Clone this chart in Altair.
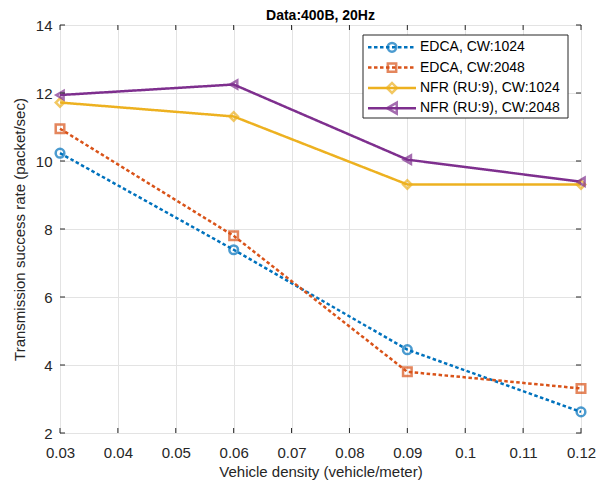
import altair as alt
import pandas as pd

density = [0.03, 0.06, 0.09, 0.12]
series_names = ["EDCA, CW:1024", "EDCA, CW:2048", "NFR (RU:9), CW:1024", "NFR (RU:9), CW:2048"]
edca_1024 = [10.23, 7.39, 4.45, 2.62]
edca_2048 = [10.95, 7.80, 3.80, 3.31]
nfr_1024 = [11.72, 11.31, 9.31, 9.31]
nfr_2048 = [11.94, 12.25, 10.04, 9.39]
colors = ["#0072BD", "#D95319", "#EDB120", "#7E2F8E"]
shapes = ["circle", "square", "diamond", "triangle-left"]
marker_sizes = [75, 70, 100, 120]
dashes = [[3.5, 2.5], [3.5, 2.5], [1, 0], [1, 0]]
x_ticks = [0.03, 0.04, 0.05, 0.06, 0.07, 0.08, 0.09, 0.10, 0.11, 0.12]
y_ticks = [2, 4, 6, 8, 10, 12, 14]
title_text = "Data:400B, 20Hz"

W, H = 521, 408
FONT = "Liberation Sans"
TXT = "#262626"

rows = []
for name, vals in zip(series_names, [edca_1024, edca_2048, nfr_1024, nfr_2048]):
    for d, v in zip(density, vals):
        rows.append({"density": d, "rate": v, "series": name})
df = pd.DataFrame(rows)

xs = alt.Scale(domain=[0.03, 0.12], nice=False, zero=False)
ys = alt.Scale(domain=[2, 14], nice=False, zero=False)
cs = alt.Scale(domain=series_names, range=colors)

base = alt.Chart(df)

lines = base.mark_line(strokeWidth=2.5).encode(
    x=alt.X("density:Q", scale=xs, title="Vehicle density (vehicle/meter)",
            axis=alt.Axis(values=x_ticks, format=".2~f")),
    y=alt.Y("rate:Q", scale=ys, title="Transmission success rate (packet/sec)",
            axis=alt.Axis(values=y_ticks)),
    color=alt.Color("series:N", scale=cs, legend=None),
    strokeDash=alt.StrokeDash("series:N", scale=alt.Scale(domain=series_names, range=dashes), legend=None),
    detail="series:N",
)

points = base.mark_point(filled=False, strokeWidth=2.5).encode(
    x=alt.X("density:Q", scale=xs),
    y=alt.Y("rate:Q", scale=ys),
    color=alt.Color("series:N", scale=cs, legend=None),
    shape=alt.Shape("series:N", scale=alt.Scale(domain=series_names, range=shapes), legend=None),
    size=alt.Size("series:N", scale=alt.Scale(domain=series_names, range=marker_sizes), legend=None),
)

# inward ticks on all four sides
xt = pd.DataFrame({"t": x_ticks})
yt = pd.DataFrame({"t": y_ticks})
tick_layers = [
    alt.Chart(xt).mark_rule(color=TXT, strokeWidth=1).encode(x=alt.X("t:Q", scale=xs), y=alt.value(H), y2=alt.value(H - 5)),
    alt.Chart(xt).mark_rule(color=TXT, strokeWidth=1).encode(x=alt.X("t:Q", scale=xs), y=alt.value(0), y2=alt.value(5)),
    alt.Chart(yt).mark_rule(color=TXT, strokeWidth=1).encode(y=alt.Y("t:Q", scale=ys), x=alt.value(0), x2=alt.value(5)),
    alt.Chart(yt).mark_rule(color=TXT, strokeWidth=1).encode(y=alt.Y("t:Q", scale=ys), x=alt.value(W), x2=alt.value(W - 5)),
]

one = pd.DataFrame({"a": [0]})

# title as a text mark above the plot area
title_layer = alt.Chart(one).mark_text(text=title_text, align="center", baseline="alphabetic", font=FONT,
                                       fontSize=14, fontWeight="bold", color="black").encode(
    x=alt.value(W / 2), y=alt.value(-5))

# manual legend (box in plot-area pixels)
leg_layers = [
    alt.Chart(one).mark_rect(fill="white", stroke="#262626", strokeWidth=1).encode(
        x=alt.value(303), x2=alt.value(508), y=alt.value(10), y2=alt.value(93))
]
for i, name in enumerate(series_names):
    yy = 22.3 + i * 20.3
    leg_layers.append(alt.Chart(one).mark_rule(color=colors[i], strokeWidth=2.5, strokeDash=dashes[i]).encode(
        x=alt.value(308), x2=alt.value(356), y=alt.value(yy)))
    leg_layers.append(alt.Chart(one).mark_point(color=colors[i], shape=shapes[i], filled=False, strokeWidth=2.5,
                                                size=marker_sizes[i]).encode(
        x=alt.value(332), y=alt.value(yy)))
    leg_layers.append(alt.Chart(one).mark_text(text=name, align="left", baseline="middle", font=FONT, fontSize=14,
                                               color="black").encode(
        x=alt.value(360), y=alt.value(yy)))

chart = alt.layer(lines, points, *tick_layers, title_layer, *leg_layers).properties(
    width=W, height=H,
    autosize=alt.AutoSizeParams(type="none"),
    padding={"left": 52, "top": 17, "right": 16, "bottom": 52},
).configure_view(
    stroke=TXT, strokeWidth=1
).configure_axis(
    grid=True, gridColor="#e3e3e3", gridWidth=1, domain=False, tickSize=0, labelFlush=False,
    labelFont=FONT, labelFontSize=15, labelColor=TXT,
    titleFont=FONT, titleFontSize=15, titleColor=TXT, titleFontWeight="normal",
).configure_axisX(
    labelPadding=12, titlePadding=4
).configure_axisY(
    labelPadding=8, titlePadding=8
)

chart.save("out.html", embed_options={"renderer": "svg", "actions": False})
